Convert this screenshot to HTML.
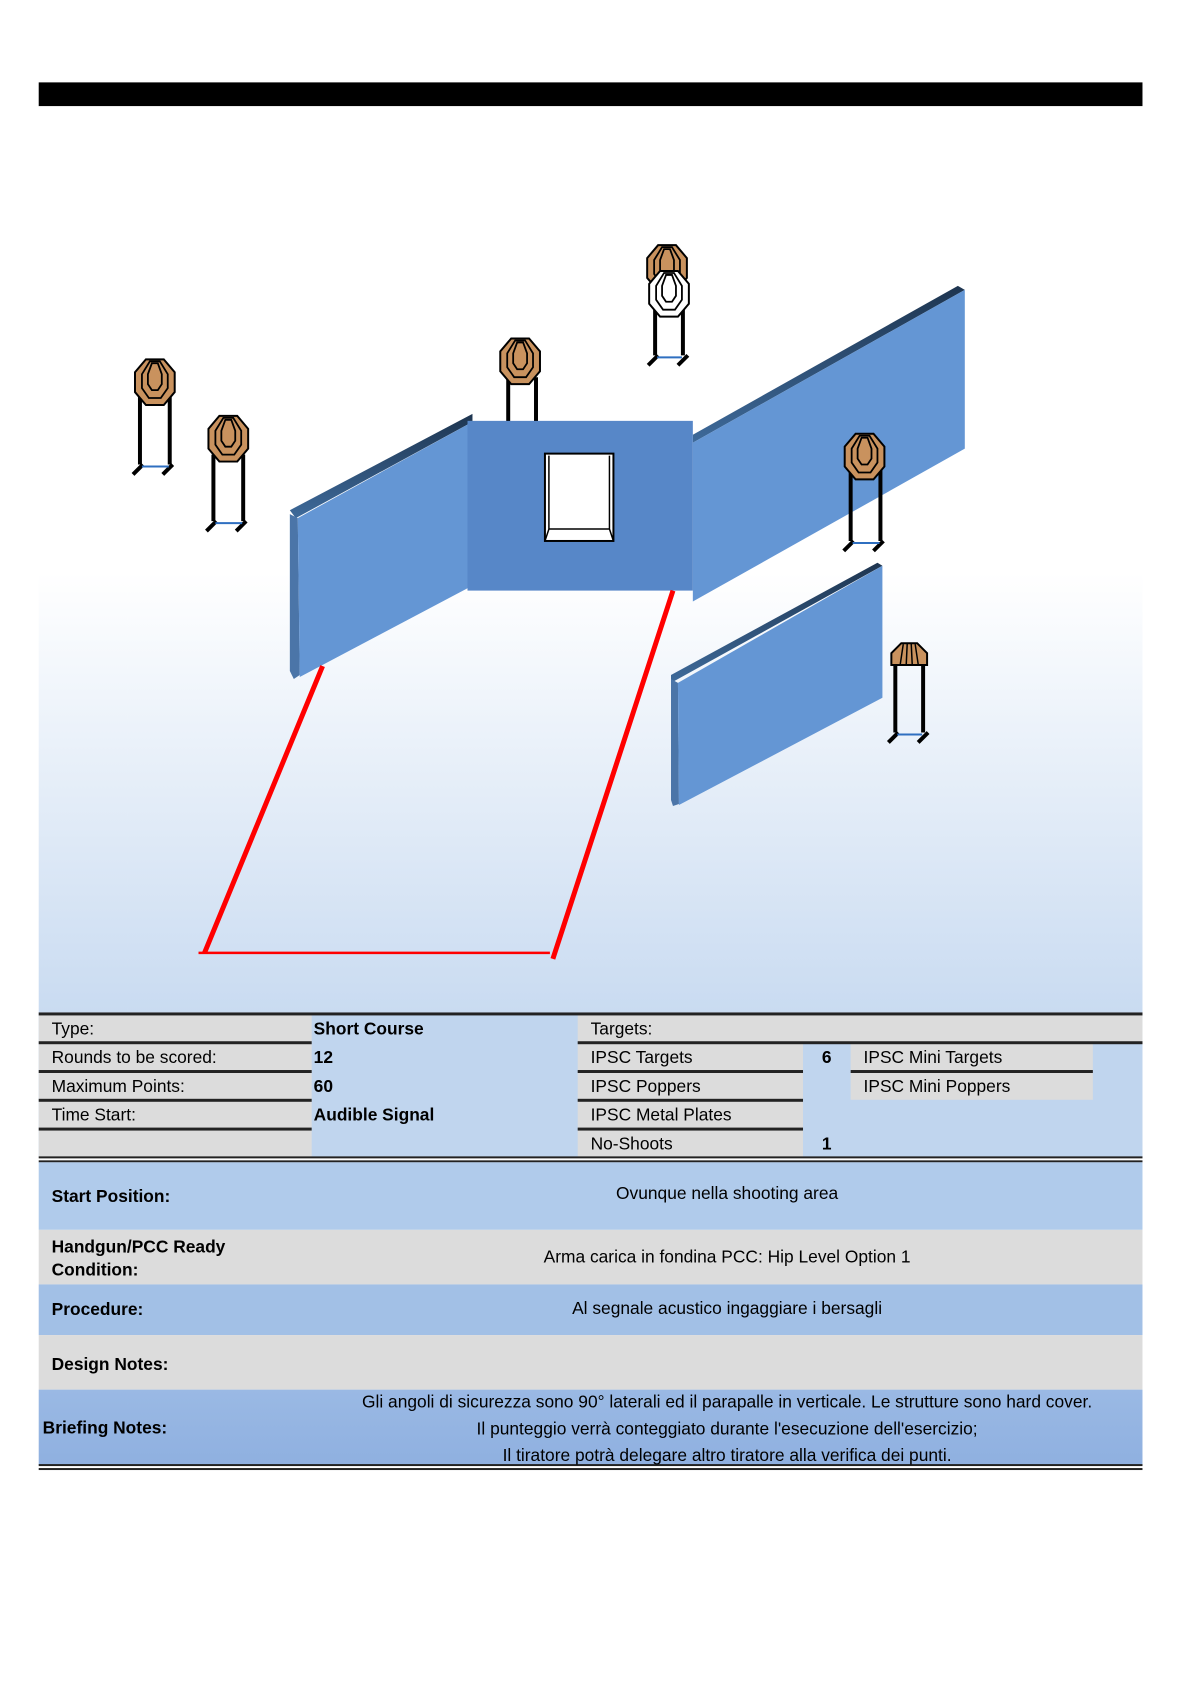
<!DOCTYPE html>
<html><head><meta charset="utf-8"><style>
body{margin:0;width:1190px;height:1684px;background:#fff;position:relative;font-family:"Liberation Sans",sans-serif;overflow:hidden}
#w{position:absolute;left:0;top:0;width:1190px;height:1684px;transform:scale(0.9926);transform-origin:0 0}
.t{position:absolute;font-size:17.5px;color:#000;white-space:nowrap}
.b{font-weight:bold}
.c{position:absolute;text-align:center;font-size:17.5px;white-space:nowrap}
</style></head><body><div id="w">
<div style="position:absolute;left:39px;top:83px;width:1112px;height:24px;background:#000"></div>
<div style="position:absolute;left:39px;top:107px;width:1112px;height:913px;background:linear-gradient(#fff 0px,#fff 470px,#c9dbf1 913px)"></div>
<svg width="1190" height="1684" style="position:absolute;left:0;top:0">
<defs>
<g id="tg">
<polygon points="-9,-23 9,-23 20,-10 20,10 9,23 -9,23 -20,10 -20,-10" fill="#c9925e" stroke="#000" stroke-width="2"/>
<polygon points="-5,-21 5,-21 13,-8 13,6 6,16 -6,16 -13,6 -13,-8" fill="none" stroke="#000" stroke-width="1.8"/>
<polygon points="-3,-19 3,-19 7,-8 7,2 3,8 -3,8 -7,2 -7,-8" fill="none" stroke="#000" stroke-width="1.8"/>
</g>
<g id="wt">
<polygon points="-9,-23 9,-23 20,-10 20,10 9,23 -9,23 -20,10 -20,-10" fill="#fff" stroke="#000" stroke-width="2"/>
<polygon points="-5,-21 5,-21 13,-8 13,6 6,16 -6,16 -13,6 -13,-8" fill="none" stroke="#000" stroke-width="1.8"/>
<polygon points="-3,-19 3,-19 7,-8 7,2 3,8 -3,8 -7,2 -7,-8" fill="none" stroke="#000" stroke-width="1.8"/>
</g>
<linearGradient id="lg" x1="0" y1="0" x2="0" y2="1"><stop offset="0" stop-color="#1e3550"/><stop offset="1" stop-color="#3e6a9a"/></linearGradient>
</defs>
<g stroke="#000" stroke-width="4" fill="none">
<path d="M141,400V468M171,400V468"/><path d="M134,478l10,-10M164,478l10,-10"/>
<path d="M215,458V525M245,458V525"/><path d="M208,535l10,-10M238,535l10,-10"/>
<path d="M512,380V430M540,380V430"/>
<path d="M660,310V358M688,310V358"/><path d="M653,368l10,-10M683,368l10,-10"/>
<path d="M902,668V738M930,668V738"/><path d="M895,748l10,-10M925,748l10,-10"/>
</g>
<g stroke="#2f6fc0" stroke-width="2">
<path d="M143,470H170M217,527H244M662,360H687M904,740H929"/>
</g>
<use href="#tg" x="156" y="385"/>
<use href="#tg" x="230" y="442"/>
<use href="#tg" x="524" y="364"/>
<use href="#tg" x="672" y="270"/>
<use href="#wt" x="674" y="296"/>
<g transform="translate(916,660)"><polygon points="-8,-12 8,-12 18,-2 18,10 -18,10 -18,-2" fill="#c9925e" stroke="#000" stroke-width="2"/><path d="M-6,-11 -9,9M6,-11 9,9M-2,-12 -3,9M2,-12 3,9" stroke="#000" stroke-width="1.5"/></g>
<polygon points="292,514 476,417 476,425 298,522" fill="url(#lg)"/>
<polygon points="292,518 300,522 302,680 296,684 292,676" fill="#4b75a8"/>
<polygon points="300,522 476,425 476,590 302,682" fill="#6496d4"/>
<polygon points="698,438 965,288 972,292 698,446" fill="url(#lg)"/>
<polygon points="698,446 972,292 972,452 698,606" fill="#6496d4"/>
<rect x="471" y="424" width="227" height="171" fill="#5787c8"/>
<rect x="549" y="457" width="69" height="88" fill="#fff" stroke="#000" stroke-width="2"/>
<path d="M553,459V533M614,459V533M553,533H614L618,545M553,533L549,545" stroke="#000" stroke-width="1.5" fill="none"/>
<g stroke="#000" stroke-width="4" fill="none">
<path d="M857,470V545M887,470V545"/><path d="M850,555l10,-10M880,555l10,-10"/>
</g>
<path d="M859,547H886" stroke="#2f6fc0" stroke-width="2"/>
<use href="#tg" x="871" y="460"/>
<polygon points="676,680 884,567 889,570 676,688" fill="url(#lg)"/>
<polygon points="676,684 683,688 684,810 678,812 676,806" fill="#4b75a8"/>
<polygon points="683,688 889,570 889,703 684,811" fill="#6496d4"/>
<g stroke="#f00" stroke-width="5" fill="none"><path d="M325,671L206,960M678,595L557,966"/></g>
<path d="M200,960H554" stroke="#f00" stroke-width="2.5"/>
</svg>
<div style="position:absolute;left:39px;top:1020px;width:1112px;height:458px">
<div style="position:absolute;left:0;top:0;width:1112px;height:146px;background:#c0d5ee"></div>
<div style="position:absolute;left:0;top:0;width:275px;height:146px;background:#dcdcdc"></div>
<div style="position:absolute;left:543px;top:0;width:569px;height:30px;background:#dcdcdc"></div>
<div style="position:absolute;left:543px;top:30px;width:227px;height:116px;background:#dcdcdc"></div>
<div style="position:absolute;left:818px;top:30px;width:244px;height:58px;background:#dcdcdc"></div>
<div style="position:absolute;left:0;top:0;width:1112px;height:3px;background:#222"></div>
<div style="position:absolute;left:0;top:29px;width:275px;height:3px;background:#222"></div>
<div style="position:absolute;left:0;top:58px;width:275px;height:3px;background:#222"></div>
<div style="position:absolute;left:0;top:87px;width:275px;height:3px;background:#222"></div>
<div style="position:absolute;left:0;top:116px;width:275px;height:3px;background:#222"></div>
<div style="position:absolute;left:543px;top:29px;width:569px;height:3px;background:#222"></div>
<div style="position:absolute;left:543px;top:58px;width:227px;height:3px;background:#222"></div>
<div style="position:absolute;left:818px;top:58px;width:244px;height:3px;background:#222"></div>
<div style="position:absolute;left:543px;top:87px;width:227px;height:3px;background:#222"></div>
<div style="position:absolute;left:543px;top:116px;width:227px;height:3px;background:#222"></div>
<div style="position:absolute;left:0;top:145px;width:1112px;height:2px;background:#222"></div>
<div style="position:absolute;left:0;top:149px;width:1112px;height:2px;background:#222"></div>
<div style="position:absolute;left:0;top:151px;width:1112px;height:68px;background:#b0cbeb"></div>
<div style="position:absolute;left:0;top:219px;width:1112px;height:55px;background:#dcdcdc"></div>
<div style="position:absolute;left:0;top:274px;width:1112px;height:51px;background:#a2c0e6"></div>
<div style="position:absolute;left:0;top:325px;width:1112px;height:55px;background:#dcdcdc"></div>
<div style="position:absolute;left:0;top:380px;width:1112px;height:76px;background:linear-gradient(#9ab9e4,#8fb0e0)"></div>
<div style="position:absolute;left:0;top:455px;width:1112px;height:2px;background:#222"></div>
<div style="position:absolute;left:0;top:459px;width:1112px;height:2px;background:#222"></div>
<span class="t" style="left:13px;top:6px">Type:</span>
<span class="t" style="left:13px;top:35px">Rounds to be scored:</span>
<span class="t" style="left:13px;top:64px">Maximum Points:</span>
<span class="t" style="left:13px;top:93px">Time Start:</span>
<span class="t b" style="left:277px;top:6px">Short Course</span>
<span class="t b" style="left:277px;top:35px">12</span>
<span class="t b" style="left:277px;top:64px">60</span>
<span class="t b" style="left:277px;top:93px">Audible Signal</span>
<span class="t" style="left:556px;top:6px">Targets:</span>
<span class="t" style="left:556px;top:35px">IPSC Targets</span>
<span class="t" style="left:556px;top:64px">IPSC Poppers</span>
<span class="t" style="left:556px;top:93px">IPSC Metal Plates</span>
<span class="t" style="left:556px;top:122px">No-Shoots</span>
<span class="t b" style="left:789px;top:35px">6</span>
<span class="t b" style="left:789px;top:122px">1</span>
<span class="t" style="left:831px;top:35px">IPSC Mini Targets</span>
<span class="t" style="left:831px;top:64px">IPSC Mini Poppers</span>
<span class="t b" style="left:13px;top:175px">Start Position:</span>
<div class="c" style="left:275px;width:837px;top:172px">Ovunque nella shooting area</div>
<span class="t b" style="left:13px;top:225px;line-height:23px">Handgun/PCC Ready<br>Condition:</span>
<div class="c" style="left:275px;width:837px;top:236px">Arma carica in fondina PCC: Hip Level Option 1</div>
<span class="t b" style="left:13px;top:289px">Procedure:</span>
<div class="c" style="left:275px;width:837px;top:288px">Al segnale acustico ingaggiare i bersagli</div>
<span class="t b" style="left:13px;top:344px">Design Notes:</span>
<span class="t b" style="left:4px;top:408px">Briefing Notes:</span>
<div class="c" style="left:275px;width:837px;top:379px;line-height:27px">Gli angoli di sicurezza sono 90° laterali ed il parapalle in verticale. Le strutture sono hard cover.<br>Il punteggio verrà conteggiato durante l'esecuzione dell'esercizio;<br>Il tiratore potrà delegare altro tiratore alla verifica dei punti.</div>
</div>
</div></body></html>
